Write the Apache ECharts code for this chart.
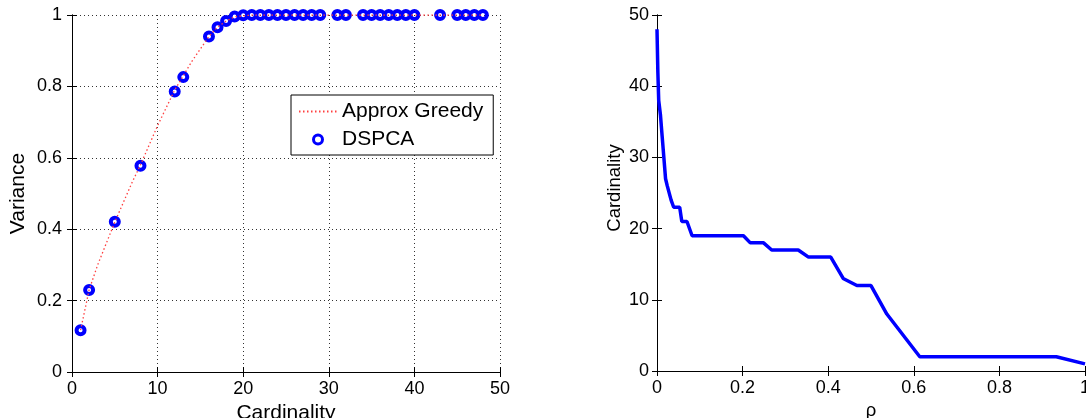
<!DOCTYPE html>
<html>
<head>
<meta charset="utf-8">
<script src="https://cdn.jsdelivr.net/npm/echarts@6/dist/echarts.min.js"></script>
<style>
  html, body { margin: 0; padding: 0; background: #fff; }
  #main { width: 1086px; height: 418px; }
</style>
</head>
<body>
<div id="main"></div>
<script>
// left panel: variance vs cardinality
var greedyCard = [1,2,3,4,5,6,7,8,9,10,11,12,13,14,15,16,17,18,19,20,21,22,23,24,25,26,27,28,29,30,31,32,33,34,35,36,37,38,39,40,41,42,43,44,45,46,47,48];
var greedyVar = [0.117,0.23,0.30,0.36,0.42,0.475,0.53,0.58,0.635,0.69,0.74,0.79,0.83,0.87,0.905,0.94,0.966,0.983,0.995,0.998,1,1,1,1,1,1,1,1,1,1,1,1,1,1,1,1,1,1,1,1,1,1,1,1,1,1,1,1];
var dspcaCard = [1,2,5,8,12,13,16,17,18,19,20,21,22,23,24,25,26,27,28,29,31,32,34,35,36,37,38,39,40,43,45,46,47,48];
var dspcaVar = [0.117,0.23,0.421,0.578,0.786,0.826,0.94,0.966,0.983,0.996,0.999,1,1,1,1,1,1,1,1,1,1,1,1,1,1,1,1,1,1,1,1,1,1,1];

// right panel: cardinality vs rho
var rho = [0,0.002,0.004,0.008,0.012,0.016,0.02,0.024,0.028,0.033,0.039,0.053,0.058,0.07,0.082,0.202,0.218,0.249,0.268,0.33,0.354,0.406,0.435,0.467,0.5,0.537,0.614,0.933,1.0];
var rhoCard = [48,42,38,36,33,30,27,26,26,24,23,23,21,21,19,19,18,18,17,17,16,16,13,12,12,8,2,2,1];

var font = "'Liberation Sans', Arial, Helvetica, sans-serif";
var pair = (xs, ys) => xs.map((x, i) => [x, ys[i]]);

var dotted = { show: true, lineStyle: { color: '#333', width: 1, type: [1, 3] } };
var blackLine = { show: true, lineStyle: { color: '#000', width: 1 } };
var tickIn = { show: true, inside: true, length: 5, lineStyle: { color: '#000' } };
var lbl = { color: '#000', fontSize: 18, fontFamily: font };
var bigName = { color: '#000', fontSize: 21, fontFamily: font };
var smallName = { color: '#000', fontSize: 18.5, fontFamily: font };

var myChart = echarts.init(document.getElementById('main'));

var option = {
  animation: false,
  backgroundColor: '#fff',
  textStyle: { fontFamily: font },
  grid: [
    { left: 72, right: 586, top: 15, bottom: 46, outerBoundsMode: 'none', containLabel: false },
    { left: 657, right: 1, top: 15, bottom: 47, outerBoundsMode: 'none', containLabel: false }
  ],
  legend: {
    data: [
      { name: 'Approx Greedy', itemStyle: { opacity: 0 } },
      { name: 'DSPCA', itemStyle: { borderWidth: 3, borderColor: '#0000ff', color: 'rgba(255,255,255,0)' } }
    ],
    orient: 'vertical',
    left: 291,
    top: 95,
    padding: [6, 10, 5, 7],
    itemWidth: 38,
    itemHeight: 9,
    itemGap: 7,
    backgroundColor: '#fff',
    borderColor: '#000',
    borderWidth: 1,
    borderRadius: 0,
    textStyle: { color: '#000', fontSize: 21, fontFamily: font, lineHeight: 21 }
  },
  xAxis: [
    {
      gridIndex: 0, type: 'value', min: 0, max: 50, interval: 10, position: 'bottom',
      name: 'Cardinality', nameLocation: 'middle', nameGap: 29,
      nameTextStyle: bigName,
      axisLine: blackLine, axisTick: tickIn,
      axisLabel: Object.assign({ margin: 8 }, lbl),
      splitLine: dotted
    },
    {
      gridIndex: 0, type: 'value', min: 0, max: 50, interval: 10, position: 'top',
      axisLine: blackLine, axisTick: tickIn, axisLabel: { show: false }, splitLine: { show: false }
    },
    {
      gridIndex: 1, type: 'value', min: 0, max: 1, interval: 0.2, position: 'bottom',
      name: 'ρ', nameLocation: 'middle', nameGap: 28,
      nameTextStyle: smallName,
      axisLine: blackLine, axisTick: tickIn,
      axisLabel: Object.assign({ margin: 8 }, lbl),
      splitLine: { show: false }
    },
    {
      gridIndex: 1, type: 'value', min: 0, max: 1, interval: 0.2, position: 'top',
      axisLine: blackLine, axisTick: tickIn, axisLabel: { show: false }, splitLine: { show: false }
    }
  ],
  yAxis: [
    {
      gridIndex: 0, type: 'value', min: 0, max: 1, interval: 0.2, position: 'left',
      name: 'Variance', nameLocation: 'middle', nameGap: 43, nameRotate: 90,
      nameTextStyle: bigName,
      axisLine: blackLine, axisTick: tickIn,
      axisLabel: Object.assign({ margin: 10 }, lbl),
      splitLine: dotted
    },
    {
      gridIndex: 0, type: 'value', min: 0, max: 1, interval: 0.2, position: 'right',
      axisLine: blackLine, axisTick: tickIn, axisLabel: { show: false }, splitLine: { show: false }
    },
    {
      gridIndex: 1, type: 'value', min: 0, max: 50, interval: 10, position: 'left',
      name: 'Cardinality', nameLocation: 'middle', nameGap: 33, nameRotate: 90,
      nameTextStyle: Object.assign({ padding: [0, 0, 0, 10] }, smallName),
      axisLine: blackLine, axisTick: tickIn,
      axisLabel: Object.assign({ margin: 8 }, lbl),
      splitLine: { show: false }
    },
    {
      gridIndex: 1, type: 'value', min: 0, max: 50, interval: 10, position: 'right',
      axisLine: blackLine, axisTick: tickIn, axisLabel: { show: false }, splitLine: { show: false }
    }
  ],
  series: [
    {
      name: 'Approx Greedy',
      type: 'line',
      xAxisIndex: 0, yAxisIndex: 0,
      data: pair(greedyCard, greedyVar),
      symbol: 'none',
      lineStyle: { color: '#ff4040', width: 1.3, type: [1.5, 2.5] },
      itemStyle: { color: '#ff4040' },
      z: 3
    },
    {
      name: 'DSPCA',
      type: 'scatter',
      xAxisIndex: 0, yAxisIndex: 0,
      data: pair(dspcaCard, dspcaVar),
      symbol: 'circle',
      symbolSize: 8,
      itemStyle: { color: 'rgba(255,255,255,0)', borderColor: '#0000ff', borderWidth: 4, opacity: 1 },
      z: 2
    },
    {
      name: 'rho',
      type: 'line',
      xAxisIndex: 2, yAxisIndex: 2,
      data: pair(rho, rhoCard),
      symbol: 'none',
      lineStyle: { color: '#0000ff', width: 3.5 },
      z: 2
    }
  ]
};

myChart.setOption(option);
</script>
</body>
</html>
